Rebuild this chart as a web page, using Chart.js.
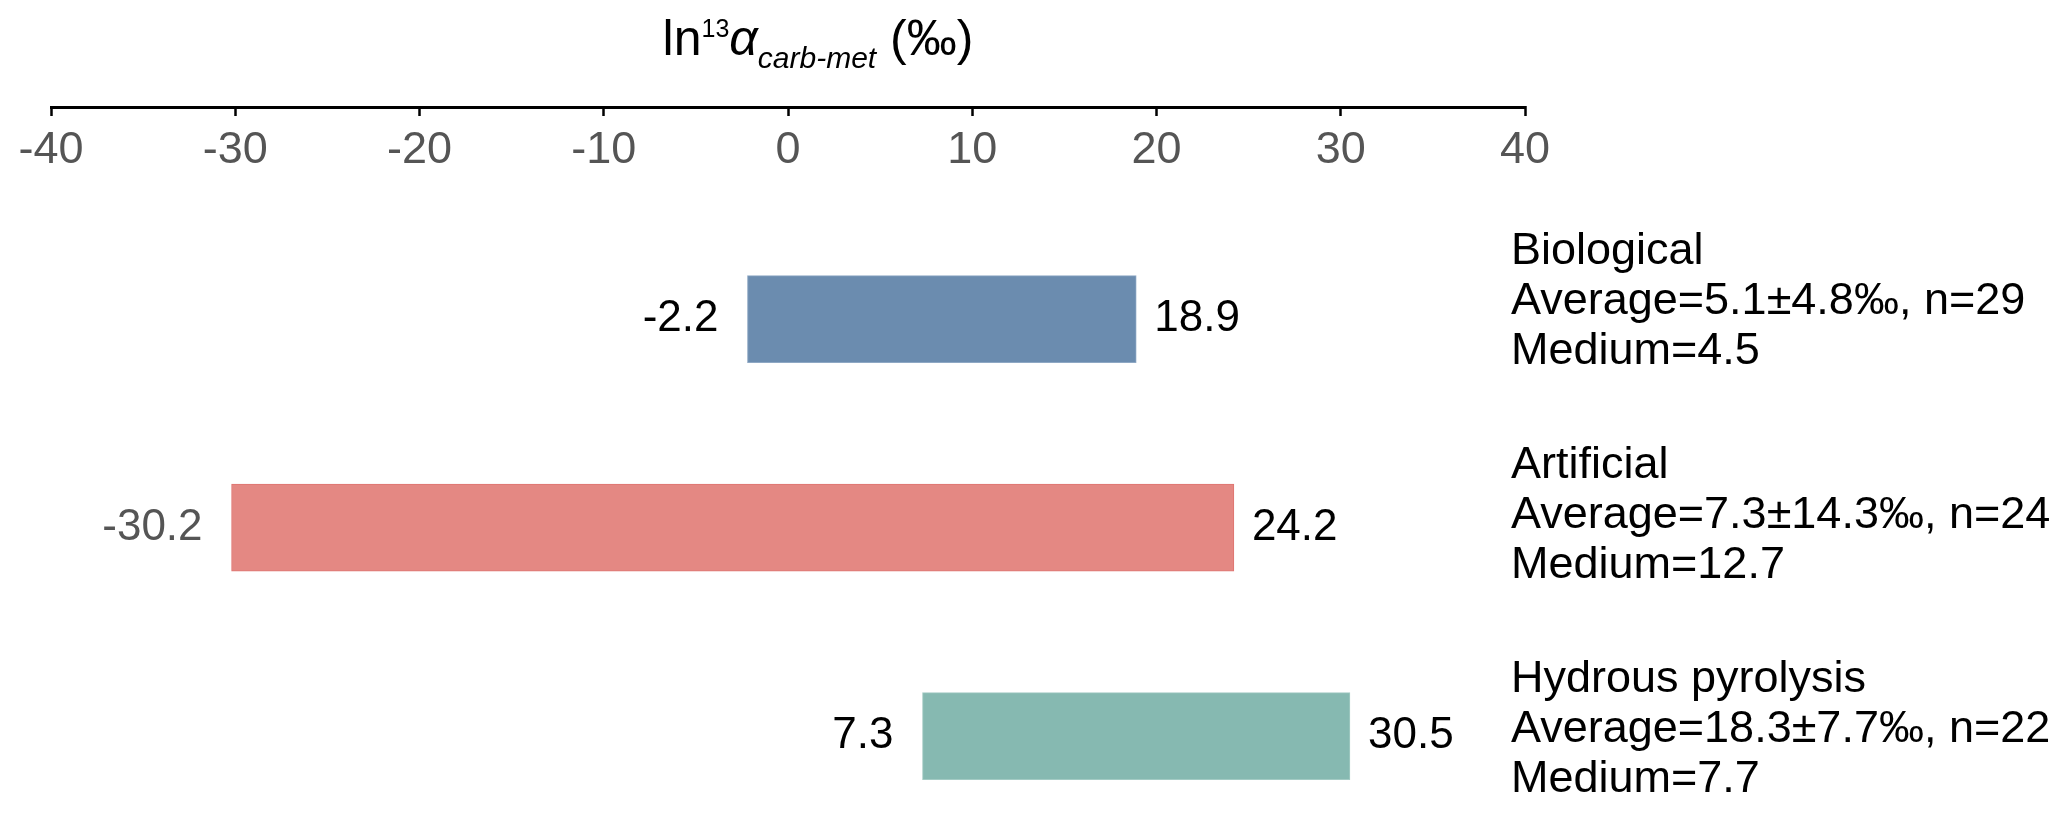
<!DOCTYPE html>
<html>
<head>
<meta charset="utf-8">
<script src="https://cdn.jsdelivr.net/npm/chart.js@4.4.1/dist/chart.umd.min.js"></script>
<style>
  html, body { margin: 0; padding: 0; background: #fff; }
  #wrap { width: 2067px; height: 823px; }
</style>
</head>
<body>
<div id="wrap"><canvas id="rangeChart" width="2067" height="823"></canvas></div>
<script>
// data
const categories = ['Biological', 'Artificial', 'Hydrous pyrolysis'];
const lows = [-2.2, -30.2, 7.3];
const highs = [18.9, 24.2, 30.5];
const averages = ['5.1', '7.3', '18.3'];
const stdevs = ['4.8', '14.3', '7.7'];
const counts = [29, 24, 22];
const medians = ['4.5', '12.7', '7.7'];
const xTicks = [-40, -30, -20, -10, 0, 10, 20, 30, 40];

const barColors = ['#6b8caf', '#e48883', '#86b9b1'];
const barBorders = ['#8ea8c4', '#df7470', '#a3cbc4'];

const SANS = '"Liberation Sans", Arial, sans-serif';

// stats block layout (middle line of first block, distance between blocks)
const statsX = 1511;
const statsTop = 302;
const statsGap = 214;
const statsLine = 50;

// labels at the ends of each bar + the stats block on the right
const rangeLabels = {
    id: 'rangeLabels',
    afterDatasetsDraw(chart) {
        const ctx = chart.ctx;
        const xs = chart.scales.x;
        const bars = chart.getDatasetMeta(0).data;
        ctx.save();
        ctx.textBaseline = 'middle';
        bars.forEach((bar, i) => {
            const y = bar.y;
            // the -30.2 label is grey like the tick labels in the original
            ctx.font = '44px ' + SANS;
            ctx.fillStyle = i === 1 ? '#555' : '#000';
            ctx.textAlign = 'right';
            ctx.fillText(lows[i].toFixed(1), xs.getPixelForValue(lows[i]) - 29, y);

            ctx.fillStyle = '#000';
            ctx.textAlign = 'left';
            ctx.fillText(highs[i].toFixed(1), xs.getPixelForValue(highs[i]) + 18, y);

            const lines = [
                categories[i],
                'Average=' + averages[i] + '\u00b1' + stdevs[i] + '\u2030, n=' + counts[i],
                'Medium=' + medians[i]
            ];
            ctx.font = '45px ' + SANS;
            const mid = statsTop + i * statsGap;
            lines.forEach((t, k) => {
                ctx.fillText(t, statsX, mid + (k - 1) * statsLine);
            });
        });
        ctx.restore();
    }
};

// axis title with superscript / subscript
const axisTitle = {
    id: 'axisTitle',
    afterDraw(chart) {
        const ctx = chart.ctx;
        const parts = [
            { t: 'ln', font: '50px ' + SANS, dy: 0 },
            { t: '13', font: '25px ' + SANS, dy: -18 },
            { t: '\u03b1', font: 'italic 50px ' + SANS, dy: 0 },
            { t: 'carb-met', font: 'italic 30px ' + SANS, dy: 13 },
            { t: ' (\u2030)', font: '50px ' + SANS, dy: 0 }
        ];
        ctx.save();
        ctx.fillStyle = '#000';
        ctx.textBaseline = 'alphabetic';
        ctx.textAlign = 'left';
        let total = 0;
        parts.forEach(p => { ctx.font = p.font; p.w = ctx.measureText(p.t).width; total += p.w; });
        let x = 818 - total / 2;
        const base = 55;
        parts.forEach(p => {
            ctx.font = p.font;
            ctx.fillText(p.t, x, base + p.dy);
            x += p.w;
        });
        ctx.restore();
    }
};

const rangeChart = new Chart(document.getElementById('rangeChart').getContext('2d'), {
    type: 'bar',
    data: {
        labels: categories,
        datasets: [{
            label: 'range',
            data: categories.map((c, i) => ({ x: [lows[i], highs[i]], y: i })),
            backgroundColor: barColors,
            borderColor: barBorders,
            borderWidth: 1,
            borderSkipped: false,
            barThickness: 87
        }]
    },
    options: {
        indexAxis: 'y',
        responsive: false,
        animation: false,
        devicePixelRatio: 1,
        layout: {
            padding: { top: 82, left: 51, right: 542, bottom: 0 }
        },
        scales: {
            x: {
                type: 'linear',
                position: 'top',
                min: -40,
                max: 40,
                afterBuildTicks: axis => { axis.ticks = xTicks.map(v => ({ value: v })); },
                ticks: {
                    mirror: true,
                    padding: 17,
                    color: '#555',
                    font: { family: SANS, size: 45 }
                },
                grid: {
                    drawOnChartArea: false,
                    drawTicks: true,
                    tickLength: -9,
                    tickWidth: 2.5,
                    tickColor: '#000'
                },
                border: { display: true, color: '#000', width: 3 }
            },
            y: {
                type: 'linear',
                display: false,
                offset: false,
                reverse: true,
                min: -1.017,
                max: 2.417
            }
        },
        plugins: {
            legend: { display: false },
            tooltip: { enabled: false }
        }
    },
    plugins: [rangeLabels, axisTitle]
});
</script>
</body>
</html>
